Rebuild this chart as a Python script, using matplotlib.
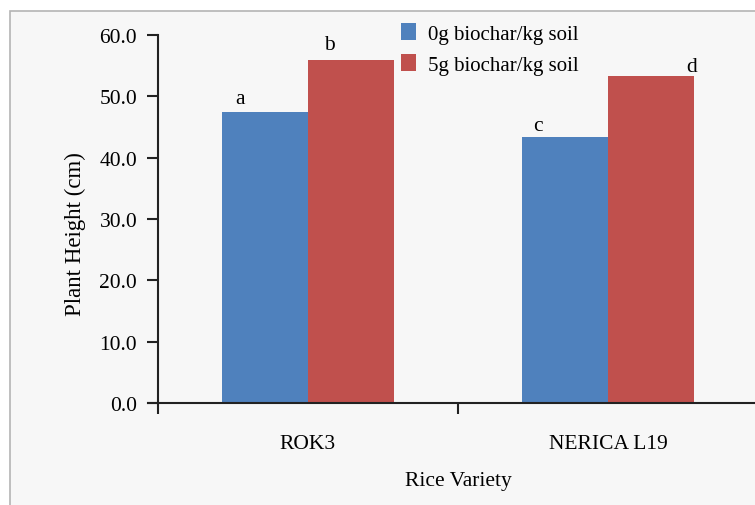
import matplotlib.pyplot as plt
from matplotlib.patches import Rectangle
import numpy as np

plt.rcParams['font.family'] = ['Liberation Serif', 'DejaVu Serif']

varieties = ['ROK3', 'NERICA L19']
series_names = ['0g biochar/kg soil', '5g biochar/kg soil']
height_0g = [47.4, 43.4]
height_5g = [55.9, 53.3]
letters_0g = ['a', 'c']
letters_5g = ['b', 'd']
yticks = [0, 10, 20, 30, 40, 50, 60]

W, H = 755, 506
fig = plt.figure(figsize=(W / 100, H / 100), dpi=100)
fig.patch.set_facecolor('white')

# light grey panel with a thin border (chart area of the original)
panel = Rectangle((10 / W, -0.01), 1.0, 1 - 12 / H + 0.01, transform=fig.transFigure,
                  facecolor='#f7f7f7', edgecolor='#b4b4b4', linewidth=1.2, zorder=-10)
fig.patches.append(panel)

ax = fig.add_axes([158 / W, (H - 404) / H, 600 / W, 368 / H])
ax.set_facecolor('none')

x = np.arange(len(varieties))
bw = 0.287
ax.bar(x - bw / 2, height_0g, bw, color='#4f81bd', label=series_names[0], zorder=2)
ax.bar(x + bw / 2, height_5g, bw, color='#c0504d', label=series_names[1], zorder=2)

# significance letters (placed as in the original figure)
letter_pos = {'a': (-0.227, 49.6), 'b': (0.07, 58.4), 'c': (0.767, 45.2), 'd': (1.28, 54.8)}
for lab in letters_0g + letters_5g:
    lx, ly = letter_pos[lab]
    ax.text(lx, ly, lab, ha='center', va='center', fontsize=15.5)

ax.set_xlim(-0.5, 1.5)
ax.set_ylim(0, 60)
ax.set_yticks(yticks)
ax.set_yticklabels([f'{v:.1f}' for v in yticks], fontsize=15.5)
ax.set_xticks([-0.5, 0.5, 1.5], minor=False)
ax.set_xticklabels([])
ax.set_xticks(x, minor=True)
ax.set_xticklabels(varieties, minor=True, fontsize=15.5)
ax.tick_params(axis='x', which='minor', length=0, pad=22)
ax.tick_params(axis='x', which='major', length=8, width=1.5, color='#222222')
ax.tick_params(axis='y', length=8, width=1.5, color='#222222', pad=7)

for s in ['top', 'right']:
    ax.spines[s].set_visible(False)
for s in ['left', 'bottom']:
    ax.spines[s].set_linewidth(1.5)
    ax.spines[s].set_color('#222222')
ax.spines['bottom'].set_bounds(-0.5 - 10 / 300, 1.5)
ax.spines['left'].set_bounds(0, 60)

ax.set_ylabel('Plant Height (cm)', fontsize=16.5)
ax.yaxis.set_label_coords((75 - 158) / 600, (404 - 234) / 368)
ax.yaxis.label.set_verticalalignment('center')
ax.set_xlabel('Rice Variety', fontsize=15.5)
ax.xaxis.set_label_coords(0.5, -(482 - 404) / 368)
ax.xaxis.label.set_verticalalignment('center')

fig.legend(loc='upper left', bbox_to_anchor=(382 / W, 1 - 5 / H), frameon=False,
           fontsize=15, handlelength=0.75, handleheight=0.9, handletextpad=0.55,
           labelspacing=0.5)

fig.savefig('out.png', dpi=100)
